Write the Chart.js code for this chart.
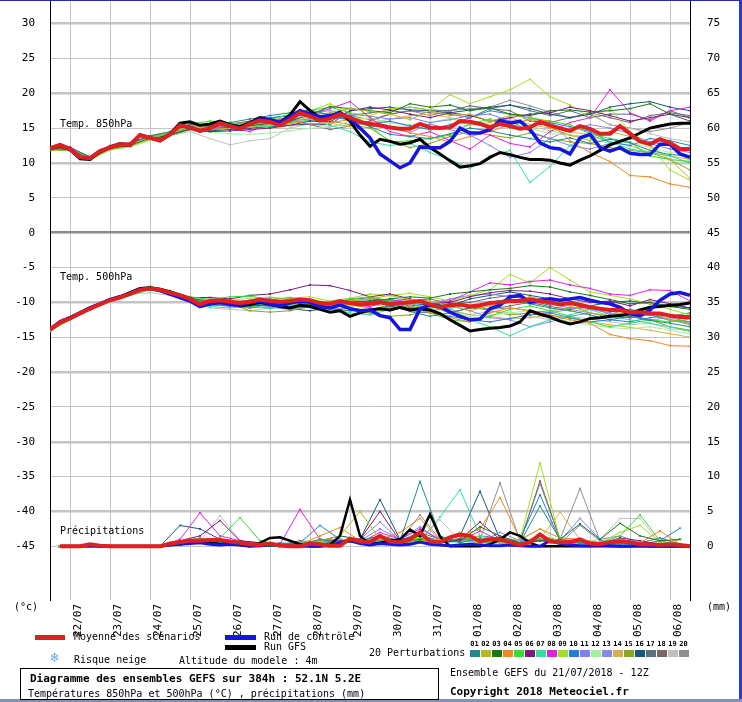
<!DOCTYPE html>
<html>
<head>
<meta charset="utf-8">
<script src="https://cdn.jsdelivr.net/npm/chart.js@4.4.0/dist/chart.umd.min.js"></script>
<style>
  body { margin: 0; background: #fff; }
  #wrap { position: relative; width: 742px; height: 702px; overflow: hidden; font-family: "DejaVu Sans Mono", monospace; }
  #wrap canvas { position: absolute; left: 0; top: -22px; }
  .t { position: absolute; font-size: 10px; line-height: 12px; white-space: nowrap; color: #000; }
  .b { font-weight: bold; font-size: 11px; }
  .bar { position: absolute; height: 5px; }
  .sw { position: absolute; width: 10px; height: 7px; top: 650px; }
  .num { position: absolute; top: 640px; font-size: 7px; font-weight: bold; width: 11px; text-align: center; }
</style>
</head>
<body>
<div id="wrap">
  <canvas id="chart" width="742" height="724"></canvas>
  <div style="position:absolute;left:0;top:0;width:742px;height:1px;background:#2030b0"></div>
  <div style="position:absolute;left:739px;top:0;width:3px;height:702px;background:#2a3cc8"></div>
  <div style="position:absolute;left:0;top:699px;width:742px;height:3px;background:#8090b8"></div>
  <div class="t" style="left:60px;top:118px">Temp. 850hPa</div>
  <div class="t" style="left:60px;top:271px">Temp. 500hPa</div>
  <div class="t" style="left:60px;top:525px">Précipitations</div>
  <div class="t" style="left:14px;top:601px">(°c)</div>
  <div class="t" style="left:707px;top:601px">(mm)</div>
  <div class="bar" style="left:35px;top:635px;width:30px;background:#e02020"></div>
  <div class="t" style="left:74px;top:631px">Moyenne des scénarios</div>
  <div class="bar" style="left:225px;top:635px;width:31px;background:#1515e0"></div>
  <div class="t" style="left:264px;top:631px">Run de contrôle</div>
  <div class="bar" style="left:225px;top:645px;width:31px;background:#000"></div>
  <div class="t" style="left:264px;top:641px">Run GFS</div>
  <div class="t" style="left:50px;top:651px;color:#70a8e0;font-size:14px">❄</div>
  <div class="t" style="left:74px;top:654px">Risque neige</div>
  <div class="t" style="left:179px;top:655px">Altitude du modele : 4m</div>
  <div class="t" style="left:369px;top:647px">20 Perturbations</div>
  <div id="swatches"></div>
  <div style="position:absolute;left:20px;top:668px;width:419px;height:32px;border:1px solid #000;box-sizing:border-box"></div>
  <div class="t b" style="left:30px;top:673px">Diagramme des ensembles GEFS sur 384h : 52.1N 5.2E</div>
  <div class="t" style="left:28px;top:688px">Températures 850hPa et 500hPa (°C) , précipitations (mm)</div>
  <div class="t" style="left:450px;top:667px">Ensemble GEFS du 21/07/2018 - 12Z</div>
  <div class="t b" style="left:450px;top:686px">Copyright 2018 Meteociel.fr</div>
</div>
<script>
// run 21/07/2018 12Z, 384h, 6h steps
const dayLabels = ["22/07","23/07","24/07","25/07","26/07","27/07","28/07","29/07","30/07","31/07","01/08","02/08","03/08","04/08","05/08","06/08"];
const hours6 = Array.from({length: 65}, (_, i) => i * 6);
const hours12 = Array.from({length: 33}, (_, i) => i * 12);
const precipHours6 = hours6.slice(1);
const precipHours12 = Array.from({length: 32}, (_, i) => 6 + i * 12);

const pertColors = ["#208a88","#b8b820","#187818","#f08820","#30e030","#801880","#30e0a0","#e020e0","#a0e020","#2080e0",
                    "#8080f0","#a0f0a0","#8888e8","#d8b050","#88a820","#185878","#587080","#786868","#c0c0c0","#909090"];

// 850 hPa (°C)
const mean850 = [12.1,12.6,12.0,10.8,10.7,11.7,12.2,12.7,12.6,14.0,13.6,13.2,14.1,15.4,15.1,14.6,15.0,15.7,15.3,14.9,15.6,16.1,15.9,15.4,16.2,17.2,16.7,16.1,16.4,17.0,16.5,15.9,
  15.6,15.4,15.1,14.9,14.9,15.6,15.1,15.0,15.1,16.0,15.9,15.6,15.1,15.6,15.3,14.9,15.1,15.9,15.4,15.0,14.6,15.3,14.9,14.2,14.2,15.3,14.2,13.1,12.7,13.4,12.9,12.0,12.0];
const ctrl850 = [12.1,12.6,12.0,10.8,10.7,11.7,12.2,12.7,12.6,14.0,13.6,13.2,14.1,15.4,15.1,14.6,15.0,15.7,15.3,14.9,15.6,16.3,16.2,15.8,16.6,17.5,17.0,16.6,16.8,17.2,16.3,15.0,
  13.6,11.3,10.3,9.3,10.0,12.3,12.2,12.2,13.1,15.0,14.3,14.3,14.8,16.1,15.7,16.0,14.8,12.9,12.2,12.0,11.3,13.6,14.1,12.2,11.7,12.2,11.4,11.2,11.2,12.7,12.7,11.3,10.8];
const gfs850 = [12.0,12.5,11.9,10.6,10.5,11.6,12.3,12.8,12.5,14.0,13.6,13.3,14.2,15.7,15.9,15.4,15.6,16.0,15.5,15.2,15.8,16.5,16.2,15.8,16.9,18.8,17.5,16.5,16.6,17.3,16.0,14.0,
  12.4,13.4,13.1,12.7,12.9,13.4,12.2,11.3,10.3,9.4,9.6,9.9,10.8,11.5,11.2,10.8,10.5,10.5,10.4,10.0,9.7,10.4,11.0,11.8,12.6,13.1,13.6,14.3,15.0,15.3,15.6,15.7,15.7];
const pert850 = [
  [12.3,12.2,10.9,12.4,12.8,13.9,14.5,15.6,15.3,15.8,16.3,16.8,17.2,17.6,16.9,16.3,15.2,14.1,13.8,13.5,14.2,15.0,14.6,14.0,13.5,13.0,13.6,12.8,13.4,12.9,11.8,11.2,11.0],
  [11.9,11.8,10.5,11.9,12.4,13.4,14.4,15.2,14.8,15.0,15.2,15.5,15.5,16.8,17.2,17.8,17.4,17.0,16.2,17.5,16.8,17.0,16.0,16.8,16.5,15.0,14.0,13.2,14.5,13.8,12.5,10.5,7.8],
  [12.0,11.9,10.6,12.1,12.5,13.5,14.0,14.9,14.7,15.1,15.3,15.7,16.0,16.9,18.1,17.8,17.5,17.2,18.5,18.0,18.3,17.5,17.9,17.0,16.8,17.5,17.6,17.3,17.5,17.8,18.5,17.0,16.0],
  [12.2,12.1,10.7,12.3,12.6,13.6,14.2,15.3,15.1,15.6,15.8,16.1,16.0,15.6,15.8,16.2,15.8,15.2,14.3,13.8,13.0,13.8,14.5,15.5,16.2,16.0,13.2,11.5,10.2,8.2,8.0,7.0,6.5],
  [11.8,11.9,10.5,12.0,12.4,13.8,14.3,15.6,16.0,15.8,15.2,16.2,17.0,17.5,18.0,17.2,15.3,13.0,13.2,13.5,14.0,15.6,16.3,15.0,16.5,16.0,15.5,14.2,13.5,13.0,11.0,10.5,10.2],
  [12.1,12.0,10.6,12.1,12.5,13.5,14.0,14.8,14.5,14.6,14.8,15.0,15.4,16.0,15.9,17.5,18.0,17.6,17.0,16.5,17.2,16.8,16.0,16.5,17.0,17.2,18.0,17.5,16.8,16.0,16.5,17.0,16.5],
  [12.0,12.1,10.9,12.3,12.7,13.7,14.2,15.3,15.6,15.4,15.2,15.3,15.6,16.2,15.4,14.5,13.0,12.5,12.8,11.5,10.5,9.2,11.0,11.8,7.2,9.5,12.5,14.0,13.0,12.0,11.5,11.0,10.0],
  [12.2,12.3,10.8,12.5,12.9,13.9,14.3,15.5,15.3,15.0,14.5,15.8,16.7,17.0,17.8,18.8,16.5,14.5,13.8,14.5,13.2,12.0,14.0,12.8,12.3,14.5,15.8,16.5,20.5,17.2,16.0,17.5,18.0],
  [12.0,11.8,10.5,12.0,12.4,13.4,14.0,15.0,15.2,15.5,15.8,16.2,16.5,17.5,18.5,17.2,16.8,17.8,18.0,17.6,19.8,18.5,19.5,20.5,22.0,19.5,18.3,16.5,17.8,14.5,12.5,9.0,7.5],
  [12.3,12.1,10.9,12.4,12.8,13.8,14.3,15.4,15.2,15.5,15.9,16.5,16.8,17.0,16.6,16.2,15.6,16.0,15.3,14.8,15.5,16.5,17.5,17.0,16.5,15.8,15.2,14.5,13.0,12.5,13.5,13.2,12.5],
  [12.1,12.2,10.7,12.2,12.6,13.7,14.1,15.2,15.0,15.2,15.5,15.8,16.0,17.2,17.5,17.0,16.7,16.3,16.5,15.8,16.2,16.8,17.0,16.0,14.5,13.5,12.5,12.0,12.8,13.5,12.8,12.0,11.5],
  [11.9,11.7,10.4,11.8,12.3,13.2,13.8,14.6,14.4,14.2,14.1,14.3,14.6,15.0,15.1,16.0,16.5,15.8,15.5,15.8,16.4,16.0,15.5,15.8,15.0,14.2,14.0,13.5,12.8,13.0,12.2,11.5,11.8],
  [12.2,12.0,10.8,12.3,12.7,13.6,14.0,15.1,14.9,15.1,15.4,15.6,16.0,16.3,17.0,16.0,15.3,15.0,14.4,15.6,14.8,14.0,12.5,10.8,11.5,13.5,14.8,15.5,15.0,14.2,13.0,12.5,12.0],
  [12.1,12.0,10.7,12.1,12.5,13.7,14.1,15.2,15.2,15.4,15.5,15.7,16.1,16.4,15.7,15.2,15.8,16.3,16.8,17.0,16.5,15.4,15.8,16.5,15.5,15.0,14.5,14.0,13.0,12.5,11.5,11.0,10.5],
  [12.0,11.9,10.6,12.0,12.6,13.5,14.0,15.0,15.1,15.2,15.3,15.5,15.8,16.1,16.0,15.5,15.0,13.2,12.2,12.8,13.8,14.5,14.0,13.6,14.3,13.5,13.0,12.8,12.2,11.8,11.5,10.5,9.0],
  [12.2,12.1,10.8,12.3,12.6,13.6,14.0,15.0,14.6,14.8,15.0,15.2,15.4,15.6,15.5,17.5,17.8,18.0,17.6,17.5,17.2,17.6,18.0,18.3,17.8,17.0,16.5,17.0,18.0,18.5,18.8,18.0,17.5],
  [12.1,12.2,10.7,12.2,12.7,13.6,14.2,15.3,15.4,15.6,16.0,16.4,16.8,17.0,16.5,16.8,17.2,17.5,18.0,17.6,17.5,18.2,17.8,18.3,17.5,16.8,17.5,16.5,17.0,17.0,16.2,17.5,16.5],
  [12.0,11.9,10.6,12.1,12.5,13.5,14.0,14.9,15.0,15.3,15.6,15.9,16.2,15.5,14.8,15.3,16.0,17.0,17.5,17.2,17.0,16.5,17.8,17.5,16.0,15.8,16.5,17.2,16.5,15.8,16.8,17.2,16.8],
  [12.1,12.0,10.6,12.1,12.5,13.5,14.0,14.5,13.5,12.6,13.2,13.5,15.0,15.6,15.2,15.5,16.0,15.8,15.3,14.8,15.0,15.5,16.0,16.2,15.3,14.6,14.0,13.8,14.5,15.0,14.2,13.5,13.0],
  [12.0,12.1,10.8,12.3,12.6,13.6,14.1,15.2,15.1,15.4,15.7,16.1,16.4,17.2,17.0,16.8,16.2,17.0,17.5,16.8,17.5,17.8,18.0,19.0,18.2,17.3,16.5,17.0,15.5,15.0,14.5,15.0,15.8]
];

// 500 hPa (°C)
const mean500 = [-13.9,-12.9,-12.3,-11.6,-10.9,-10.3,-9.7,-9.3,-8.8,-8.2,-8.0,-8.2,-8.6,-9.0,-9.5,-10.3,-9.8,-9.7,-9.9,-10.1,-9.9,-9.6,-9.8,-9.9,-9.8,-9.6,-9.7,-10.1,-10.2,-9.8,-10.1,-10.3,
  -10.2,-10.0,-10.3,-10.1,-10.0,-9.8,-10.3,-10.7,-10.4,-10.3,-10.6,-10.4,-10.1,-10.0,-9.8,-9.8,-9.6,-9.8,-10.0,-10.3,-10.1,-10.4,-10.7,-10.9,-11.1,-11.1,-11.4,-11.4,-11.6,-11.6,-11.9,-12.1,-12.1];
const ctrl500 = [-13.9,-12.8,-12.2,-11.5,-10.8,-10.2,-9.6,-9.2,-8.7,-8.1,-8.0,-8.3,-8.8,-9.3,-9.8,-10.6,-10.2,-10.0,-10.3,-10.4,-10.0,-9.8,-10.2,-10.5,-10.1,-9.8,-10.0,-10.6,-10.8,-10.4,-10.9,-11.2,
  -11.1,-11.9,-12.2,-13.9,-13.9,-10.9,-10.4,-10.6,-11.4,-12.0,-12.5,-12.4,-10.9,-10.4,-9.2,-9.0,-10.0,-9.7,-9.5,-9.7,-9.5,-9.3,-9.7,-10.0,-10.2,-10.7,-11.6,-11.9,-11.1,-9.7,-8.8,-8.6,-9.0];
const gfs500 = [-13.9,-12.8,-12.2,-11.5,-10.8,-10.2,-9.6,-9.2,-8.6,-8.0,-7.9,-8.1,-8.5,-9.0,-9.6,-10.5,-10.2,-10.0,-10.2,-10.5,-10.3,-10.0,-10.3,-10.6,-10.8,-10.4,-10.6,-11.0,-11.4,-11.2,-12.0,-11.5,
  -11.1,-10.9,-11.1,-10.7,-11.1,-10.9,-11.1,-11.6,-12.5,-13.3,-14.1,-13.9,-13.7,-13.6,-13.4,-12.8,-11.2,-11.7,-12.1,-12.7,-13.1,-12.8,-12.3,-12.2,-12.0,-11.9,-11.6,-11.1,-10.7,-10.6,-10.4,-10.3,-10.1];
const pert500 = [
  [-13.8,-12.2,-10.8,-9.6,-8.7,-7.9,-8.5,-9.4,-10.2,-10.5,-10.3,-10.4,-10.8,-10.6,-10.9,-11.2,-11.0,-10.5,-11.3,-12.0,-11.5,-10.8,-10.0,-9.5,-10.2,-10.8,-11.2,-11.8,-12.5,-12.0,-12.6,-13.0,-13.5],
  [-14.1,-12.4,-11.0,-9.8,-8.9,-8.1,-8.7,-9.6,-10.0,-10.2,-9.6,-9.3,-9.5,-9.9,-10.3,-9.8,-9.5,-9.0,-9.6,-9.8,-10.5,-11.2,-10.5,-10.0,-9.2,-9.8,-10.5,-11.5,-12.0,-11.2,-11.5,-12.5,-13.0],
  [-13.9,-12.3,-10.9,-9.7,-8.7,-7.8,-8.4,-9.3,-10.1,-10.3,-10.5,-10.4,-9.9,-10.4,-10.7,-10.0,-9.8,-9.5,-9.2,-9.4,-8.8,-8.5,-8.2,-8.0,-7.6,-7.8,-8.5,-9.0,-9.6,-10.2,-10.0,-10.6,-11.0],
  [-14.0,-12.4,-11.0,-9.7,-8.8,-8.1,-8.7,-9.5,-9.9,-10.0,-10.2,-10.1,-9.9,-10.2,-10.5,-10.3,-10.8,-11.2,-10.5,-11.5,-12.2,-12.8,-11.5,-10.8,-11.2,-11.8,-12.5,-13.0,-14.6,-15.2,-15.5,-16.2,-16.3],
  [-13.7,-12.1,-10.7,-9.5,-8.6,-7.7,-8.3,-9.2,-9.6,-9.2,-9.1,-9.6,-9.3,-9.8,-10.2,-9.5,-9.2,-9.8,-10.0,-11.5,-12.5,-12.8,-12.0,-11.0,-10.5,-11.2,-12.0,-12.8,-13.5,-13.0,-12.5,-12.8,-12.4],
  [-13.9,-12.3,-10.8,-9.6,-8.7,-7.9,-8.5,-9.3,-9.3,-9.5,-9.0,-8.8,-8.2,-7.5,-7.6,-8.3,-9.2,-8.8,-9.5,-10.3,-10.0,-9.2,-8.6,-8.3,-8.4,-8.8,-9.5,-10.0,-9.8,-10.5,-9.6,-10.2,-10.8],
  [-14.2,-12.5,-11.1,-9.9,-9.0,-8.2,-8.8,-9.8,-10.6,-10.8,-10.5,-10.9,-10.4,-10.0,-10.8,-11.5,-11.8,-11.0,-10.5,-11.2,-10.8,-12.5,-13.5,-14.8,-13.5,-12.5,-11.8,-11.0,-12.0,-12.5,-13.0,-13.5,-14.2],
  [-13.8,-12.2,-10.8,-9.6,-8.8,-8.0,-8.6,-9.5,-9.8,-10.0,-9.7,-9.5,-10.0,-10.3,-10.5,-10.2,-10.6,-9.8,-9.5,-10.2,-9.8,-8.5,-7.2,-7.5,-7.0,-6.8,-7.5,-8.0,-8.8,-9.0,-8.2,-8.3,-9.8],
  [-14.0,-12.3,-10.9,-9.7,-8.8,-8.0,-8.6,-9.5,-9.7,-9.6,-9.9,-9.6,-9.4,-9.2,-9.8,-9.4,-8.8,-9.0,-8.7,-9.2,-9.8,-9.0,-8.2,-6.0,-7.2,-5.0,-6.8,-8.5,-9.0,-9.5,-10.2,-11.0,-11.8],
  [-13.9,-12.3,-10.9,-9.7,-8.8,-8.0,-8.6,-9.5,-10.0,-9.8,-10.2,-10.0,-9.7,-10.1,-10.4,-9.9,-9.8,-10.5,-11.2,-11.5,-12.0,-12.5,-12.8,-12.3,-11.8,-11.5,-12.2,-12.8,-12.5,-12.8,-12.2,-11.8,-12.0],
  [-14.1,-12.4,-11.0,-9.8,-8.9,-8.1,-8.7,-9.6,-10.3,-10.6,-10.8,-10.6,-11.0,-10.4,-10.0,-10.2,-9.8,-9.6,-10.0,-10.2,-9.5,-9.0,-8.8,-9.2,-9.5,-10.2,-10.8,-11.0,-11.5,-12.0,-11.8,-12.5,-13.2],
  [-13.8,-12.2,-10.8,-9.6,-8.7,-7.9,-8.5,-9.4,-9.5,-9.7,-9.4,-9.2,-9.6,-9.5,-10.0,-10.5,-10.8,-11.2,-10.5,-10.8,-11.5,-12.0,-11.8,-11.5,-11.2,-12.0,-12.8,-13.2,-13.6,-13.8,-13.5,-14.0,-14.5],
  [-14.0,-12.3,-10.9,-9.7,-8.8,-8.0,-8.6,-9.6,-10.4,-10.2,-10.6,-10.8,-10.5,-10.7,-11.0,-10.8,-11.2,-10.6,-10.2,-10.8,-10.5,-11.2,-12.2,-12.5,-13.5,-12.8,-12.0,-11.5,-12.2,-11.8,-12.5,-12.2,-12.8],
  [-13.9,-12.3,-10.9,-9.7,-8.8,-8.0,-8.6,-9.5,-9.6,-9.8,-10.0,-9.8,-10.2,-10.0,-10.3,-10.6,-10.2,-10.8,-11.0,-10.5,-11.2,-11.8,-12.0,-12.4,-12.2,-11.8,-12.3,-12.8,-13.2,-13.6,-14.0,-14.5,-15.0],
  [-13.8,-12.2,-10.8,-9.6,-8.7,-7.9,-8.5,-9.4,-10.4,-10.2,-11.2,-11.4,-11.2,-10.6,-10.2,-10.9,-11.5,-12.0,-11.8,-11.2,-10.8,-10.5,-11.2,-11.8,-11.5,-11.2,-10.8,-10.5,-11.2,-12.0,-12.5,-13.5,-14.0],
  [-14.0,-12.4,-11.0,-9.8,-8.9,-8.1,-8.7,-9.6,-10.0,-10.2,-10.1,-10.6,-10.9,-11.2,-10.8,-10.2,-10.0,-9.8,-10.5,-10.2,-10.5,-9.5,-9.0,-8.5,-9.0,-9.5,-9.8,-10.5,-10.0,-9.8,-10.2,-10.5,-10.8],
  [-13.9,-12.3,-10.9,-9.7,-8.8,-8.0,-8.6,-9.5,-9.9,-10.4,-10.2,-10.0,-10.4,-10.5,-10.1,-9.6,-9.3,-10.0,-9.8,-9.5,-10.2,-10.0,-9.4,-9.0,-9.8,-10.4,-10.0,-10.8,-11.2,-11.0,-11.6,-12.0,-11.5],
  [-14.1,-12.4,-11.0,-9.8,-8.9,-8.1,-8.7,-9.7,-10.5,-10.4,-10.8,-10.2,-10.0,-10.3,-10.6,-9.8,-9.5,-9.8,-10.8,-10.5,-11.5,-10.8,-11.0,-10.5,-10.0,-10.6,-11.0,-10.5,-11.8,-12.2,-11.5,-12.5,-12.8],
  [-13.8,-12.2,-10.8,-9.6,-8.9,-8.6,-9.0,-9.8,-10.8,-11.0,-11.2,-10.8,-11.0,-10.6,-10.8,-11.2,-11.6,-10.8,-10.4,-10.6,-11.0,-11.8,-11.2,-11.5,-12.0,-12.5,-12.0,-12.4,-12.8,-13.2,-13.0,-13.8,-14.0],
  [-14.0,-12.3,-10.9,-9.7,-8.8,-8.0,-8.6,-9.5,-9.8,-10.0,-9.9,-10.3,-10.1,-9.9,-10.5,-10.4,-10.2,-9.6,-10.0,-10.4,-9.9,-10.5,-11.0,-10.8,-11.2,-11.5,-11.0,-11.5,-12.0,-12.2,-11.8,-12.6,-13.0]
];

// precipitation (mm / 6h)
const meanPrecip = [0,0,0,0.3,0.1,0,0,0,0,0,0,0.4,0.6,0.8,0.8,0.9,0.9,0.7,0.5,0.3,0.2,0.4,0.1,0,0,0.4,0.3,0.1,0.1,1.1,0.7,
  0.6,1.5,0.7,0.6,1.0,2.0,0.7,0.6,1.3,1.7,1.5,0.7,1.0,1.0,0.6,0.2,0.6,1.7,0.7,0.6,0.6,1.0,0.4,0.3,0.6,0.7,0.6,0.3,0.3,0.2,0.3,0.2,0];
const ctrlPrecip = [0,0,0,0,0,0,0,0,0,0,0,0.2,0.3,0.4,0.5,0.3,0.2,0.3,0.2,0,0.1,0.2,0.2,0.1,0,0,0,0.1,0.5,0.8,0.4,
  0.2,0.4,0.3,0.2,0.3,0.6,0.3,0.2,0.1,0.2,0.3,0.2,0.1,0.1,0.2,0.1,0,0,0.8,0.4,0.2,0.1,0.1,0.2,0.1,0,0,0.1,0,0,0,0,0];
const gfsPrecip = [0,0,0,0.2,0,0,0,0,0,0,0,0.2,0.3,0.5,0.8,0.6,0.3,0.5,0.2,0,0.5,1.2,1.3,0.8,0.3,0,0,0.2,1.5,6.7,1.5,
  0.3,0.5,0.8,1.0,2.4,1.5,4.6,1.4,0,0,0,0,0.3,1.0,2.0,1.5,0.5,0,0,0,0,0,0,0,0,0,0,0,0,0,0,0,0];
const pertPrecip = [
  [0,0,0,0,0,0,0.5,1.0,0.5,0.3,0.2,0.5,0.3,1.0,0.5,0.8,1.5,0.8,9.3,1.5,0.5,1.2,0.8,0.5,5.8,1.0,0.5,0.3,0.2,0.3,0.2,0.1],
  [0,0,0,0,0,0,0.3,0.8,1.0,0.5,0.2,0,0.5,0.8,1.5,5.0,1.0,0.5,0.8,1.0,2.0,1.0,0.5,0.3,1.5,0.8,0.5,0.2,0.5,0.3,0.2,0.1],
  [0,0,0,0,0,0,0.2,0.5,0.8,0.3,0,0,0.2,0.3,0.5,0.8,0.5,0.3,1.0,0.5,0.8,2.8,1.5,0.5,0.8,1.0,3.2,1.0,3.3,1.5,0.8,1.0],
  [0,0,0,0,0,0,0.5,0.8,0.6,0.4,0.2,0,0.3,1.5,2.7,0.8,1.0,2.0,4.0,0.8,1.5,2.5,7.0,1.0,2.5,1.2,1.0,0.5,1.0,0.5,2.2,0.3],
  [0,0,0,0,0,0,0.5,1.0,1.2,4.1,0.8,0.2,0.5,0.8,0.5,0.6,1.0,0.5,1.2,0.8,1.5,0.6,0.5,0.3,1.0,0.5,0.8,0.5,1.5,4.5,0.8,0.2],
  [0,0,0,0,0,0,0.8,1.5,3.7,0.8,0.5,0.2,0.5,0.3,0.8,1.0,5.0,0.8,1.5,0.5,1.0,3.5,1.0,0.3,0.8,0.5,0.5,0.3,1.2,0.8,0.3,0.2],
  [0,0,0,0,0,0,0.3,0.8,0.5,0.8,0.3,0,0.3,0.5,0.8,0.5,0.5,0.3,0.8,4.2,8.1,1.5,0.8,0.5,1.5,0.8,0.5,0.3,0.5,0.3,0.2,0.1],
  [0,0,0,0,0,0,1.0,4.8,1.5,0.8,0.5,0.3,5.3,1.0,0.8,0.5,2.0,1.0,2.5,1.0,0.8,2.2,0.8,0.5,1.0,0.8,0.5,0.3,0.8,0.5,0.3,0.2],
  [0,0,0,0,0,0,0.5,0.8,0.5,0.8,0.3,0,0.3,0.5,1.0,0.8,1.0,0.5,0.8,0.5,1.0,0.5,0.8,1.0,12.0,1.0,0.8,0.5,2.0,3.0,0.5,0.2],
  [0,0,0,0,0,0,0.3,0.5,0.8,0.5,0.2,0,0.5,3.0,1.0,0.5,0.8,0.5,1.5,0.8,1.0,0.8,0.5,1.0,7.4,0.8,0.5,0.3,0.5,0.3,0.8,2.6],
  [0,0,0,0,0,0,0.5,1.0,0.8,0.5,0.3,0.2,0.5,0.8,1.0,0.8,2.5,1.0,2.8,0.8,1.0,0.5,0.8,0.5,1.0,0.8,4.0,1.0,1.5,0.5,0.3,0.2],
  [0,0,0,0,0,0,0.3,0.5,0.3,0.5,0.2,0,0.3,0.5,0.8,0.5,0.8,0.3,0.5,0.8,0.5,0.3,0.5,0.8,2.5,0.5,0.3,0.5,0.8,0.3,0.2,0.1],
  [0,0,0,0,0,0,0.5,0.8,1.0,0.5,0.3,0.2,0.3,0.5,0.8,1.0,3.5,0.8,1.0,0.5,0.8,0.5,2.0,0.8,1.0,0.5,3.0,0.8,1.0,0.5,0.3,0.2],
  [0,0,0,0,0,0,0.3,0.5,0.8,0.3,0.2,0,0.5,0.8,1.0,0.8,0.5,0.8,1.2,0.5,1.0,1.5,0.8,0.5,1.0,4.9,1.0,0.5,0.8,0.5,0.3,0.2],
  [0,0,0,0,0,0,0.8,1.2,0.5,0.8,0.3,0.2,0.5,0.3,0.5,0.8,1.0,0.5,0.8,0.5,1.2,0.8,0.5,0.3,1.0,0.8,0.5,0.3,0.8,0.5,0.3,1.0],
  [0,0,0,0,0,0,3.0,2.5,1.0,0.5,0.3,0.2,0.5,0.8,1.5,1.0,6.7,1.0,1.5,0.8,1.5,7.9,1.0,0.5,1.5,0.8,0.5,0.3,0.5,0.3,0.2,0.1],
  [0,0,0,0,0,0,0.8,1.0,0.8,0.5,0.3,0.2,0.8,0.5,1.0,0.8,1.5,0.8,2.0,1.0,0.8,1.5,1.2,0.8,1.0,0.8,0.5,0.3,1.0,0.5,1.2,0.3],
  [0,0,0,0,0,0,0.5,0.8,0.5,0.3,0.2,0,0.3,0.5,0.8,0.5,1.0,0.5,0.8,0.5,1.0,0.5,0.8,0.5,9.4,1.0,0.8,0.5,0.5,0.3,0.2,0.1],
  [0,0,0,0,0,0,0.3,0.8,4.4,0.8,0.3,0,0.2,0.5,0.8,0.5,0.8,0.5,1.0,3.8,0.8,0.5,0.8,0.5,1.0,0.8,0.5,1.0,4.0,4.0,0.5,0.2],
  [0,0,0,0,0,0,0.5,0.8,0.5,0.3,0.2,0,0.3,0.5,1.0,0.8,1.2,0.8,4.5,1.0,0.8,1.0,9.1,0.8,9.0,1.0,8.3,0.8,0.5,0.3,0.5,0.2]
];

// perturbation legend swatches
const sw = document.getElementById("swatches");
pertColors.forEach((c, i) => {
    const left = 470 + i * 11;
    sw.insertAdjacentHTML("beforeend",
        `<div class="sw" style="left:${left}px;background:${c}"></div>` +
        `<div class="num" style="left:${left - 1}px">${String(i + 1).padStart(2, "0")}</div>`);
});

function pts(xs, ys) {
    return ys.map((y, i) => ({x: xs[i], y: y}));
}

function pertSet(xs, ys, color, axis) {
    return {data: pts(xs, ys), borderColor: color, backgroundColor: color, borderWidth: 1,
            pointRadius: 1.3, pointStyle: "crossRot", pointBorderWidth: 1, yAxisID: axis, order: 3};
}

function mainSet(xs, ys, color, width, order, axis) {
    return {data: pts(xs, ys), borderColor: color, borderWidth: width, pointRadius: 0, yAxisID: axis, order: order};
}

const datasets = [];
pert850.forEach((p, i) => datasets.push(pertSet(hours12, p, pertColors[i], "y")));
pert500.forEach((p, i) => datasets.push(pertSet(hours12, p, pertColors[i], "y")));
pertPrecip.forEach((p, i) => datasets.push(pertSet(precipHours12, p, pertColors[i], "y2")));
datasets.push(mainSet(hours6, gfs850, "#000000", 3, 2, "y"));
datasets.push(mainSet(hours6, gfs500, "#000000", 3, 2, "y"));
datasets.push(mainSet(precipHours6, gfsPrecip, "#000000", 2.5, 2, "y2"));
datasets.push(mainSet(hours6, ctrl850, "#1515e0", 3.5, 1, "y"));
datasets.push(mainSet(hours6, ctrl500, "#1515e0", 3.5, 1, "y"));
datasets.push(mainSet(precipHours6, ctrlPrecip, "#1515e0", 3, 1, "y2"));
datasets.push(mainSet(hours6, mean850, "#e02020", 4, 0, "y"));
datasets.push(mainSet(hours6, mean500, "#e02020", 4, 0, "y"));
datasets.push(mainSet(precipHours6, meanPrecip, "#e02020", 4, 0, "y2"));

const yMin = -52.7, yMax = 33.15;
const tickFont = {family: "DejaVu Sans Mono", size: 11};

new Chart(document.getElementById("chart"), {
    type: "line",
    data: {datasets: datasets},
    options: {
        responsive: false,
        animation: false,
        layout: {padding: 0},
        elements: {line: {tension: 0}},
        plugins: {legend: {display: false}, tooltip: {enabled: false}},
        scales: {
            x: {
                type: "linear", min: 0, max: 384,
                afterBuildTicks: (s) => { s.ticks = dayLabels.map((d, i) => ({value: 12 + i * 24})); },
                afterFit: (s) => { s.height = 102; },
                ticks: {
                    callback: (v, i) => dayLabels[i],
                    minRotation: 90, maxRotation: 90, labelOffset: 8, padding: 4,
                    font: tickFont, color: "#000", autoSkip: false
                },
                grid: {color: "#c4c4c4", lineWidth: 1, drawTicks: false},
                border: {display: false}
            },
            y: {
                min: yMin, max: yMax,
                afterBuildTicks: (s) => { s.ticks = Array.from({length: 16}, (_, i) => ({value: -45 + i * 5})); },
                afterFit: (s) => { s.width = 50; },
                ticks: {font: tickFont, color: "#000", padding: 15},
                grid: {
                    drawTicks: false,
                    color: (c) => c.tick && c.tick.value === 0 ? "#8a8a8a" : "#c4c4c4",
                    lineWidth: (c) => c.tick && c.tick.value % 10 === 0 ? 2.5 : 1
                },
                border: {display: true, color: "#000", width: 1}
            },
            y2: {
                position: "right",
                min: yMin + 45, max: yMax + 45,
                afterBuildTicks: (s) => { s.ticks = Array.from({length: 16}, (_, i) => ({value: i * 5})); },
                afterFit: (s) => { s.width = 52; },
                ticks: {font: tickFont, color: "#000", padding: 17},
                grid: {display: false, drawTicks: false},
                border: {display: true, color: "#000", width: 1}
            }
        }
    }
});
</script>
</body>
</html>
